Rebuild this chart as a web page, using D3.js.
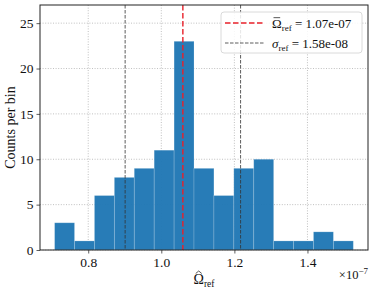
<!DOCTYPE html>
<html>
<head>
<meta charset="utf-8">
<script src="https://cdn.jsdelivr.net/npm/d3@7"></script>
<style>
body { margin: 0; background: #fff; }
text { font-family: "Liberation Serif", "DejaVu Serif", serif; }
</style>
</head>
<body>
<div id="canvas"></div>
<script>
// ----------------------------------------------------------
// DATA -----------------------------------------------------
// ----------------------------------------------------------
// histogram of omega_ref (units of 1e-7)
var bin_start = 0.708;
var bin_width = 0.0545;
var bin_counts = [3, 1, 6, 8, 9, 11, 23, 9, 6, 9, 10, 1, 1, 2, 1];
// reference lines
var omega_mean = 1.059;
var omega_sigma = 0.158;
// ticks
var x_ticks = [0.8, 1.0, 1.2, 1.4];
var y_ticks = [0, 5, 10, 15, 20, 25];
var legend_labels = ["1.07e-07", "1.58e-08"];

// ----------------------------------------------------------
// STRUCTURE ------------------------------------------------
// ----------------------------------------------------------
var W = 374, H = 293;
var plot = { left: 40, right: 368, top: 5, bottom: 250 };

var svg = d3.select("#canvas").append("svg")
.attr("width", W)
.attr("height", H)
.style("background-color", "#fff");

var xScale = d3.scaleLinear()
.domain([0.668, 1.5657])
.range([plot.left, plot.right]);
var yScale = d3.scaleLinear()
.domain([0, 27])
.range([plot.bottom, plot.top]);

var grid_group = svg.append("g").attr("class", "grid");
var bar_group = svg.append("g").attr("class", "bars");
var line_group = svg.append("g").attr("class", "lines");
var axis_group = svg.append("g").attr("class", "axes");
var text_group = svg.append("g").attr("class", "text");

// ----------------------------------------------------------
// GRID -----------------------------------------------------
// ----------------------------------------------------------
grid_group.selectAll(".gx")
.data(x_ticks)
.enter().append("line")
.attr("x1", d => xScale(d)).attr("x2", d => xScale(d))
.attr("y1", plot.top).attr("y2", plot.bottom)
.attr("stroke", "#b0b0b0").attr("stroke-width", 0.8)
.attr("stroke-dasharray", "1,1.6");
grid_group.selectAll(".gy")
.data(y_ticks)
.enter().append("line")
.attr("x1", plot.left).attr("x2", plot.right)
.attr("y1", d => yScale(d)).attr("y2", d => yScale(d))
.attr("stroke", "#b0b0b0").attr("stroke-width", 0.8)
.attr("stroke-dasharray", "1,1.6");

// ----------------------------------------------------------
// BARS -----------------------------------------------------
// ----------------------------------------------------------
bar_group.selectAll("rect")
.data(bin_counts)
.enter().append("rect")
.attr("x", (d, i) => xScale(bin_start + i * bin_width))
.attr("width", (d, i) => xScale(bin_start + (i + 1) * bin_width) - xScale(bin_start + i * bin_width))
.attr("y", d => yScale(d))
.attr("height", d => yScale(0) - yScale(d))
.style("fill", "#1f77b4")
.style("fill-opacity", 0.96)
.style("stroke", "rgba(255,255,255,0.22)")
.style("stroke-width", 0.8);

// ----------------------------------------------------------
// REFERENCE LINES ------------------------------------------
// ----------------------------------------------------------
line_group.selectAll(".sigma")
.data([omega_mean - omega_sigma, omega_mean + omega_sigma])
.enter().append("line")
.attr("x1", d => xScale(d)).attr("x2", d => xScale(d))
.attr("y1", plot.top).attr("y2", plot.bottom)
.attr("stroke", "#333").attr("stroke-width", 0.8)
.attr("stroke-dasharray", "3.5,1.5");
line_group.append("line")
.attr("x1", xScale(omega_mean)).attr("x2", xScale(omega_mean))
.attr("y1", plot.top).attr("y2", plot.bottom)
.attr("stroke", "#e8202a").attr("stroke-width", 1.4)
.attr("stroke-dasharray", "5.5,2.5");

// ----------------------------------------------------------
// AXES -----------------------------------------------------
// ----------------------------------------------------------
axis_group.append("g")
.attr("transform", `translate(0,${plot.bottom})`)
.call(d3.axisBottom(xScale).tickValues(x_ticks).tickSize(3.5).tickPadding(4).tickFormat(d3.format(".1f")))
.call(customAxis);
axis_group.append("g")
.attr("transform", `translate(${plot.left},0)`)
.call(d3.axisLeft(yScale).tickValues(y_ticks).tickSize(3.5).tickPadding(3).tickFormat(d3.format("d")))
.call(customAxis);

function customAxis(g) {
g.select(".domain").remove();
g.selectAll(".tick line").attr("stroke", "#333").attr("stroke-width", 0.8);
g.selectAll(".tick text")
.style("font-family", "'Liberation Serif', serif")
.style("font-size", "13.5px")
.attr("fill", "#111");
}

// frame
axis_group.append("rect")
.attr("x", plot.left).attr("y", plot.top)
.attr("width", plot.right - plot.left)
.attr("height", plot.bottom - plot.top)
.style("fill", "none")
.style("stroke", "#222")
.style("stroke-width", 1);

// ----------------------------------------------------------
// ACCENT HELPER --------------------------------------------
// ----------------------------------------------------------
// draw bar or hat above first glyph, placed from its baseline
function addAccent(textSel, kind, baseline, size) {
var box = textSel.node().getExtentOfChar(0);
var cx = box.x + box.width / 2;
var top = baseline - size * 0.68 - 1.5;
if (kind == "bar") {
svg.append("line")
.attr("x1", box.x + 1.5).attr("x2", box.x + box.width - 1.5)
.attr("y1", top).attr("y2", top)
.attr("stroke", "#111").attr("stroke-width", 0.7);
} else {
svg.append("path")
.attr("d", `M${cx - 3},${top + 0.5} L${cx},${top - 2} L${cx + 3},${top + 0.5}`)
.attr("fill", "none")
.attr("stroke", "#111").attr("stroke-width", 0.7);
}
}

// ----------------------------------------------------------
// LEGEND ---------------------------------------------------
// ----------------------------------------------------------
var legend = svg.append("g").attr("class", "legend");
legend.append("rect")
.attr("x", 221).attr("y", 12)
.attr("width", 141).attr("height", 41)
.attr("rx", 3)
.style("fill", "rgba(255,255,255,0.85)")
.style("stroke", "#d0d0d0")
.style("stroke-width", 0.8);
legend.append("line")
.attr("x1", 225).attr("x2", 265).attr("y1", 23).attr("y2", 23)
.attr("stroke", "#e8202a").attr("stroke-width", 1.4)
.attr("stroke-dasharray", "5.5,2.5");
legend.append("line")
.attr("x1", 225).attr("x2", 265).attr("y1", 43).attr("y2", 43)
.attr("stroke", "#333").attr("stroke-width", 0.8)
.attr("stroke-dasharray", "3.5,1.5");

var leg_1 = legend.append("text")
.attr("x", 272).attr("y", 28)
.style("font-size", "13px").attr("fill", "#111");
leg_1.append("tspan").text("\u03A9");
leg_1.append("tspan").text("ref").attr("dy", 3).style("font-size", "9px");
leg_1.append("tspan").text(" = " + legend_labels[0]).attr("dy", -3);
addAccent(leg_1, "bar", 28, 13);

var leg_2 = legend.append("text")
.attr("x", 272).attr("y", 47.5)
.style("font-size", "13px").attr("fill", "#111");
leg_2.append("tspan").text("\u03C3").style("font-style", "italic");
leg_2.append("tspan").text("ref").attr("dy", 3).style("font-size", "9px");
leg_2.append("tspan").text(" = " + legend_labels[1]).attr("dy", -3);

// ----------------------------------------------------------
// TEXT -----------------------------------------------------
// ----------------------------------------------------------
text_group.append("text")
.attr("transform", `translate(15,${(plot.top + plot.bottom) / 2}) rotate(-90)`)
.attr("text-anchor", "middle")
.style("font-size", "14px")
.attr("fill", "#111")
.text("Counts per bin");

var xlabel = text_group.append("text")
.attr("x", (plot.left + plot.right) / 2)
.attr("y", 284)
.attr("text-anchor", "middle")
.style("font-size", "14px")
.attr("fill", "#111");
xlabel.append("tspan").text("\u03A9");
xlabel.append("tspan").text("ref").attr("dy", 3).style("font-size", "9.5px");
addAccent(xlabel, "hat", 284, 14);

var offset = text_group.append("text")
.attr("x", plot.right)
.attr("y", 279)
.attr("text-anchor", "end")
.style("font-size", "12.5px")
.attr("fill", "#111");
offset.append("tspan").text("\u00D710");
offset.append("tspan").text("\u22127").attr("dy", -5).style("font-size", "9px");
</script>
</body>
</html>
